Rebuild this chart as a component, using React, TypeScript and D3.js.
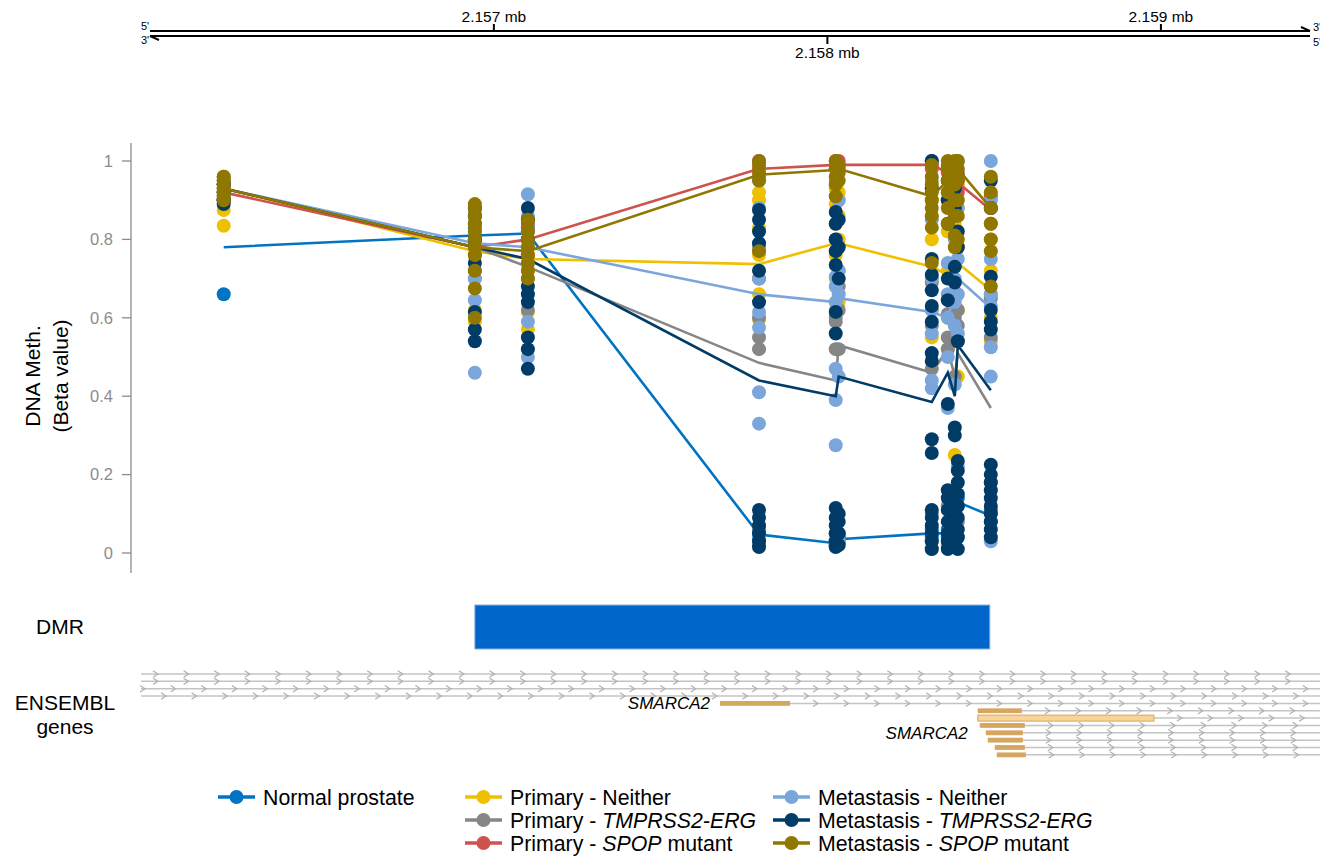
import * as d3 from "d3";
import React from "react";

// CpG probe positions (bp)
const probePositions = [2156190, 2156943, 2157102, 2157795, 2158025, 2158034, 2158313, 2158361, 2158382, 2158391, 2158490];

const groupColors = ["#0073C2", "#EFC000", "#868686", "#CD534C", "#7AA6DC", "#003C67", "#8F7700"];

// beta values per probe, one array per sample group
const normalProstate = [
  [0.66, 0.9], [0.79, 0.83], [0.8, 0.83], [0.04, 0.055], [0.02, 0.03], [0.03, 0.04],
  [0.04, 0.06], [0.04, 0.06], [0.05, 0.07], [0.12, 0.14], [0.08, 0.11],
];
const primaryNeither = [
  [0.835, 0.875, 0.92, 0.94, 0.95, 0.96],
  [0.59, 0.62, 0.76, 0.8, 0.84, 0.87],
  [0.57, 0.615, 0.72, 0.78, 0.82, 0.85],
  [0.595, 0.66, 0.7, 0.76, 0.83, 0.9, 0.92],
  [0.62, 0.7, 0.76, 0.84, 0.89, 0.93],
  [0.64, 0.72, 0.8, 0.86, 0.92],
  [0.55, 0.62, 0.7, 0.8, 0.86, 0.9],
  [0.52, 0.6, 0.72, 0.82, 0.9],
  [0.25, 0.58, 0.74, 0.84, 0.92],
  [0.45, 0.62, 0.78, 0.88, 0.94],
  [0.54, 0.6, 0.66, 0.72, 0.8],
];
const primaryTmprss2 = [
  [0.9, 0.93, 0.95, 0.94],
  [0.7, 0.76, 0.8, 0.84, 0.8],
  [0.62, 0.7, 0.76, 0.8, 0.82],
  [0.06, 0.52, 0.6, 0.7, 0.55],
  [0.05, 0.52, 0.59, 0.6],
  [0.05, 0.52, 0.62, 0.68],
  [0.1, 0.47, 0.58, 0.69],
  [0.12, 0.61, 0.52, 0.55],
  [0.1, 0.45, 0.6, 0.55],
  [0.08, 0.58, 0.62, 0.54],
  [0.1, 0.18, 0.55, 0.65],
];
const primarySpop = [
  [0.9, 0.92, 0.94], [0.72, 0.78, 0.84], [0.76, 0.8, 0.84], [0.96, 0.98, 1.0],
  [0.98, 0.99, 1.0], [0.98, 0.99, 1.0], [0.98, 0.99, 1.0], [0.95, 0.97, 0.99],
  [0.94, 0.96, 0.98], [0.92, 0.95, 0.97], [0.84, 0.88, 0.91],
];
const metNeither = [
  [0.96, 0.93, 0.91],
  [0.46, 0.645, 0.7, 0.82, 0.86, 0.88],
  [0.5, 0.59, 0.74, 0.8, 0.86, 0.915],
  [0.02, 0.04, 0.33, 0.41, 0.575, 0.615, 0.7, 0.78, 0.88, 0.95],
  [0.02, 0.05, 0.275, 0.39, 0.47, 0.64, 0.68, 0.705, 0.8, 0.95],
  [0.03, 0.45, 0.66, 0.72, 0.9],
  [0.01, 0.03, 0.42, 0.44, 0.56, 0.62, 0.7, 0.85, 0.95, 1.0],
  [0.02, 0.37, 0.5, 0.6, 0.66, 0.74, 0.92],
  [0.03, 0.43, 0.58, 0.64, 0.7, 0.8, 0.98],
  [0.04, 0.22, 0.56, 0.66, 0.75, 0.88, 1.0],
  [0.03, 0.45, 0.525, 0.63, 0.66, 0.75, 0.9, 1.0],
];
const metTmprss2 = [
  [0.89, 0.9, 0.92, 0.94],
  [0.54, 0.57, 0.615, 0.74, 0.8, 0.86, 0.88],
  [0.47, 0.52, 0.55, 0.64, 0.66, 0.68, 0.8, 0.85, 0.88],
  [0.015, 0.03, 0.05, 0.07, 0.09, 0.11, 0.64, 0.72, 0.79, 0.82, 0.85, 0.875],
  [0.015, 0.03, 0.05, 0.07, 0.09, 0.115, 0.56, 0.615, 0.735, 0.77, 0.8, 0.84, 0.87],
  [0.02, 0.05, 0.08, 0.1, 0.7, 0.78, 0.85],
  [0.01, 0.03, 0.05, 0.07, 0.09, 0.11, 0.255, 0.29, 0.49, 0.51, 0.59, 0.63, 0.67, 0.71, 0.75, 0.93, 1.0],
  [0.01, 0.03, 0.05, 0.08, 0.11, 0.14, 0.16, 0.38, 0.645, 0.7, 0.84, 0.9, 0.95],
  [0.02, 0.04, 0.07, 0.1, 0.13, 0.3, 0.32, 0.73, 0.69, 0.88, 0.93],
  [0.01, 0.04, 0.06, 0.09, 0.12, 0.15, 0.18, 0.21, 0.235, 0.54, 0.78, 0.82, 0.96],
  [0.04, 0.06, 0.08, 0.1, 0.12, 0.14, 0.16, 0.18, 0.2, 0.225, 0.57, 0.59, 0.62, 0.705, 0.88, 0.95],
];
const metSpop = [
  [0.9, 0.91, 0.92, 0.93, 0.94, 0.95, 0.96],
  [0.6, 0.675, 0.72, 0.76, 0.78, 0.8, 0.82, 0.84, 0.86, 0.88, 0.89],
  [0.7, 0.72, 0.74, 0.76, 0.78, 0.8, 0.82, 0.85],
  [0.77, 0.95, 0.97, 0.99, 1.0],
  [0.91, 0.94, 0.96, 0.98, 1.0],
  [0.95, 0.97, 0.99],
  [0.74, 0.83, 0.86, 0.88, 0.9, 0.92, 0.94, 0.96, 0.99],
  [0.84, 0.88, 0.92, 0.95, 0.98, 1.0],
  [0.78, 0.81, 0.86, 0.9, 0.94, 0.97, 1.0],
  [0.8, 0.86, 0.9, 0.95, 0.98, 1.0],
  [0.68, 0.77, 0.8, 0.84, 0.88, 0.92, 0.96],
];

// group averages drawn as lines
const normalMean = [0.78, 0.81, 0.815, 0.047, 0.025, 0.035, 0.05, 0.05, 0.06, 0.13, 0.095];
const primaryNeitherMean = [0.93, 0.77, 0.75, 0.737, 0.79, 0.79, 0.73, 0.71, 0.72, 0.74, 0.67];
const primaryTmprss2Mean = [0.93, 0.78, 0.73, 0.485, 0.44, 0.53, 0.46, 0.52, 0.45, 0.51, 0.37];
const primarySpopMean = [0.92, 0.78, 0.8, 0.98, 0.99, 0.99, 0.99, 0.97, 0.96, 0.945, 0.875];
const metNeitherMean = [0.93, 0.79, 0.78, 0.66, 0.64, 0.65, 0.615, 0.6, 0.66, 0.7, 0.625];
const metTmprss2Mean = [0.93, 0.78, 0.75, 0.44, 0.4, 0.45, 0.385, 0.46, 0.4, 0.53, 0.415];
const metSpopMean = [0.93, 0.78, 0.77, 0.965, 0.977, 0.98, 0.91, 0.95, 0.97, 0.98, 0.88];

const legendLabels: [string, boolean][][] = [
  [["Normal prostate", false]],
  [["Primary - Neither", false]],
  [["Primary - ", false], ["TMPRSS2-ERG", true]],
  [["Primary - ", false], ["SPOP", true], [" mutant", false]],
  [["Metastasis - Neither", false]],
  [["Metastasis - ", false], ["TMPRSS2-ERG", true]],
  [["Metastasis - ", false], ["SPOP", true], [" mutant", false]],
];

const yTicks = [0, 0.2, 0.4, 0.6, 0.8, 1];
const genomeTicks = [2157000, 2158000, 2159000];
const genomeTickLabels = ["2.157 mb", "2.158 mb", "2.159 mb"];

const dmrStart = 2156943;
const dmrEnd = 2158487;

// ENSEMBL transcripts (SMARCA2)
const txStart = [2155900, 2155900, 2155900, 2155900, 2157678, 2158451, 2158451, 2158457, 2158475, 2158481, 2158502, 2158508];
const txEnd = [2159500, 2159500, 2159500, 2159500, 2159500, 2159500, 2159500, 2159500, 2159500, 2159500, 2159500, 2159500];
const exonStart = [null, null, null, null, 2157678, 2158451, 2158451, 2158457, 2158475, 2158481, 2158502, 2158508];
const exonEnd = [null, null, null, null, 2157888, 2158583, 2158979, 2158592, 2158586, 2158586, 2158592, 2158595];
const exonUtr = [false, false, false, false, false, false, true, false, false, false, false, false];

const groups = [
  { values: normalProstate, mean: normalMean },
  { values: primaryNeither, mean: primaryNeitherMean },
  { values: primaryTmprss2, mean: primaryTmprss2Mean },
  { values: primarySpop, mean: primarySpopMean },
  { values: metNeither, mean: metNeitherMean },
  { values: metTmprss2, mean: metTmprss2Mean },
  { values: metSpop, mean: metSpopMean },
];

const FONT = "'Liberation Sans', Arial, Helvetica, sans-serif";

export default function App() {
  const width = 1320;
  const height = 861;

  const x = d3.scaleLinear().domain([2155948, 2159477]).range([143, 1320]);
  const y = d3.scaleLinear().domain([0, 1]).range([553, 161]);

  const line = d3
    .line<number>()
    .x((_, i) => x(probePositions[i]))
    .y((d) => y(d));

  const rowY = (i: number) => 674 + i * 7.35;
  const chevronPhase = [15, 15, 2, 23];

  const legendCol = [0, 1, 1, 1, 2, 2, 2];
  const legendRow = [0, 0, 1, 2, 0, 1, 2];
  const legendX = [218, 465, 773];
  const legendY = [797, 820, 843];

  return (
    <svg
      width={width}
      height={height}
      style={{ position: "absolute", left: 0, top: 0, background: "#fff" }}
      fontFamily={FONT}
    >
      {/* genome axis */}
      <g>
        <line x1={150} x2={1310} y1={31} y2={31} stroke="#000" strokeWidth={2} />
        <line x1={150} x2={1310} y1={36} y2={36} stroke="#000" strokeWidth={2} />
        <line x1={1301} x2={1310} y1={27} y2={31} stroke="#000" strokeWidth={2} />
        <line x1={150} x2={159} y1={36} y2={40} stroke="#000" strokeWidth={2} />
        <text x={141} y={30} fontSize={11}>5'</text>
        <text x={141} y={44} fontSize={11}>3'</text>
        <text x={1313} y={31} fontSize={11}>3'</text>
        <text x={1313} y={46} fontSize={11}>5'</text>
        {genomeTicks.map((t, i) => {
          const up = i % 2 === 0;
          return (
            <g key={t}>
              <line
                x1={x(t)}
                x2={x(t)}
                y1={up ? 24 : 36}
                y2={up ? 31 : 44}
                stroke="#000"
                strokeWidth={2}
              />
              <text x={x(t)} y={up ? 22 : 58} textAnchor="middle" fontSize={15.5}>
                {genomeTickLabels[i]}
              </text>
            </g>
          );
        })}
      </g>

      {/* y axis */}
      <g>
        <line x1={131} x2={131} y1={143} y2={573} stroke="#8c8c8c" strokeWidth={1.3} />
        {yTicks.map((t) => (
          <g key={t}>
            <line x1={122} x2={131} y1={y(t)} y2={y(t)} stroke="#8c8c8c" strokeWidth={1.3} />
            <text x={113} y={y(t)} dy="0.35em" textAnchor="end" fontSize={16.5} fill="#8c8c8c">
              {String(t)}
            </text>
          </g>
        ))}
        <text transform="translate(40,376) rotate(-90)" textAnchor="middle" fontSize={21}>
          DNA Meth.
        </text>
        <text transform="translate(68,376) rotate(-90)" textAnchor="middle" fontSize={21}>
          (Beta value)
        </text>
      </g>

      {/* methylation points and group mean lines */}
      {groups.map((g, gi) => (
        <g key={gi}>
          {g.values.map((vals, pi) =>
            vals.map((v, k) => (
              <circle key={pi + "-" + k} cx={x(probePositions[pi])} cy={y(v)} r={7} fill={groupColors[gi]} />
            ))
          )}
          <path d={line(g.mean) || ""} fill="none" stroke={groupColors[gi]} strokeWidth={2.6} />
        </g>
      ))}

      {/* DMR track */}
      <text x={60} y={627} dy="0.35em" textAnchor="middle" fontSize={21}>DMR</text>
      <rect
        x={x(dmrStart)}
        y={605}
        width={x(dmrEnd) - x(dmrStart)}
        height={44}
        fill="#0066CC"
        stroke="#8fb0d8"
        strokeWidth={1}
      />

      {/* gene track */}
      <text x={65} y={703} dy="0.35em" textAnchor="middle" fontSize={21}>ENSEMBL</text>
      <text x={65} y={727} dy="0.35em" textAnchor="middle" fontSize={21}>genes</text>
      {txStart.map((s, i) => {
        const yy = rowY(i);
        const lineStart = Math.max(x(s), 141);
        const lineEnd = Math.min(x(txEnd[i]), 1320);
        const arrowFrom = exonEnd[i] != null ? x(exonEnd[i] as number) + 26 : lineStart + chevronPhase[i];
        const arrows = d3.range(arrowFrom, lineEnd - 2, 30.6);
        return (
          <g key={i}>
            <line
              x1={exonEnd[i] != null ? x(exonStart[i] as number) : lineStart}
              x2={lineEnd}
              y1={yy}
              y2={yy}
              stroke="#c4c4c4"
              strokeWidth={1.5}
            />
            {arrows.map((ax) => (
              <path
                key={ax}
                d={`M${ax - 3},${yy - 3.2}L${ax + 2},${yy}L${ax - 3},${yy + 3.2}`}
                fill="none"
                stroke="#b0b0b0"
                strokeWidth={1.2}
              />
            ))}
            {exonStart[i] != null && (
              <rect
                x={x(exonStart[i] as number)}
                y={yy - (exonUtr[i] ? 3 : 2.4)}
                width={x(exonEnd[i] as number) - x(exonStart[i] as number)}
                height={exonUtr[i] ? 6 : 4.8}
                fill={exonUtr[i] ? "#F8D597" : "#D6A660"}
                stroke={exonUtr[i] ? "#D6A660" : "none"}
                strokeWidth={1}
              />
            )}
          </g>
        );
      })}
      <text x={x(exonStart[4] as number) - 10} y={rowY(4)} dy="0.35em" textAnchor="end" fontSize={17} fontStyle="italic">
        SMARCA2
      </text>
      <text x={x(exonStart[5] as number) - 10} y={rowY(8)} dy="0.35em" textAnchor="end" fontSize={17} fontStyle="italic">
        SMARCA2
      </text>

      {/* legend */}
      {legendLabels.map((segs, i) => {
        const lx = legendX[legendCol[i]];
        const ly = legendY[legendRow[i]];
        return (
          <g key={i}>
            <line x1={lx} x2={lx + 37} y1={ly} y2={ly} stroke={groupColors[i]} strokeWidth={3.5} />
            <circle cx={lx + 18.5} cy={ly} r={7} fill={groupColors[i]} />
            <text x={lx + 45} y={ly} dy="0.36em" fontSize={21.3}>
              {segs.map(([s, it], k) => (
                <tspan key={k} fontStyle={it ? "italic" : "normal"}>
                  {s}
                </tspan>
              ))}
            </text>
          </g>
        );
      })}
    </svg>
  );
}
